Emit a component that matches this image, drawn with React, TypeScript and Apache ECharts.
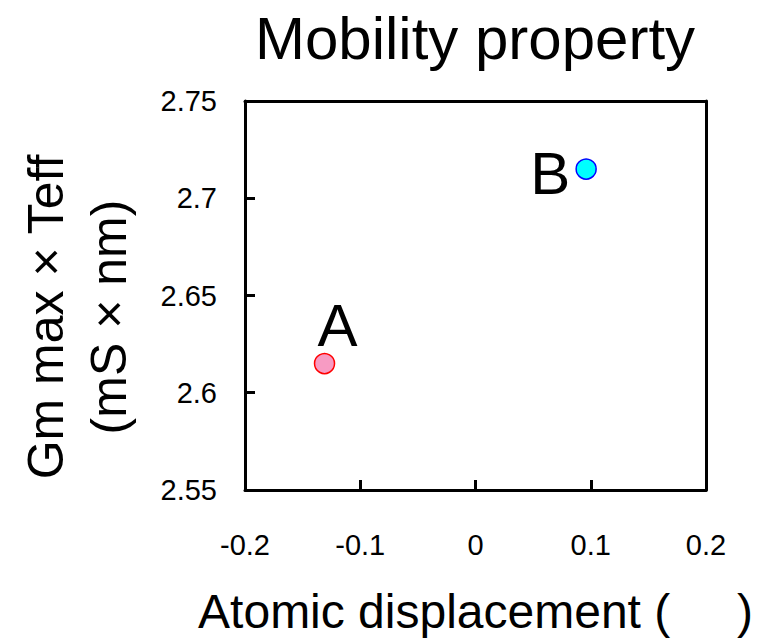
import React, { useEffect, useRef } from "react";
import * as echarts from "echarts";

const pointNames = ["A", "B"];
const xValues = [-0.131, 0.096];
const yValues = [2.615, 2.715];
const fillColors = ["#F79BC3", "#00FFFF"];
const borderColors = ["#FF0000", "#0000FF"];

const FONT = "'Liberation Sans', Arial, Helvetica, sans-serif";

const frameAxis = {
  type: "value",
  show: true,
  axisLine: { show: true, onZero: false, lineStyle: { color: "#000", width: 3 } },
  axisTick: { show: false },
  axisLabel: { show: false },
  splitLine: { show: false },
};

const labelBase = {
  show: true,
  color: "#000000",
  fontSize: 60,
  fontFamily: FONT,
  opacity: 1,
  textBorderWidth: 0,
  textShadowBlur: 0,
};

export default function App() {
  const ref = useRef<HTMLDivElement>(null);
  useEffect(() => {
    document.body.style.margin = "0";
    const chart = echarts.init(ref.current!, null, { renderer: "svg" });
    const data = pointNames.map((n, i) => ({
      name: n,
      value: [xValues[i], yValues[i]],
      itemStyle: { color: fillColors[i], borderColor: borderColors[i], borderWidth: 1.5, opacity: 1 },
      label: i === 0
        ? { ...labelBase, position: "top", offset: [13, 8], formatter: n }
        : { ...labelBase, position: "left", offset: [0, 4], formatter: n },
    }));
    chart.setOption({
      animation: false,
      backgroundColor: "#ffffff",
      textStyle: { fontFamily: FONT, color: "#000" },
      title: {
        text: "Mobility property",
        left: 470,
        top: 3,
        textAlign: "center",
        textStyle: { fontFamily: FONT, fontSize: 60, fontWeight: "normal", color: "#000" },
      },
      grid: {
        left: 245,
        right: 66,
        top: 101,
        bottom: 152,
        show: false,
      },
      xAxis: [
        {
          type: "value",
          min: -0.2,
          max: 0.2,
          interval: 0.1,
          position: "bottom",
          name: "Atomic displacement (     )",
          nameLocation: "middle",
          nameGap: 97,
          nameTextStyle: { fontFamily: FONT, fontSize: 48, color: "#000" },
          axisLine: { show: true, onZero: false, lineStyle: { color: "#000", width: 3 } },
          axisTick: { show: true, inside: true, length: 10, lineStyle: { color: "#000", width: 3 } },
          axisLabel: { fontFamily: FONT, fontSize: 29, color: "#000", margin: 40 },
          splitLine: { show: false },
        },
        { ...frameAxis, position: "top", min: -0.2, max: 0.2, interval: 0.1 },
      ],
      yAxis: [
        {
          type: "value",
          min: 2.55,
          max: 2.75,
          interval: 0.05,
          position: "left",
          axisLine: { show: true, onZero: false, lineStyle: { color: "#000", width: 3 } },
          axisTick: { show: true, inside: true, length: 10, lineStyle: { color: "#000", width: 3 } },
          axisLabel: { fontFamily: FONT, fontSize: 29, color: "#000", margin: 28 },
          splitLine: { show: false },
        },
        { ...frameAxis, position: "right", min: 2.55, max: 2.75, interval: 0.05 },
      ],
      graphic: [
        {
          type: "text",
          x: 77,
          y: 317,
          rotation: Math.PI / 2,
          style: {
            text: "Gm max × Teff\n(mS × nm)",
            font: `50px ${FONT}`,
            lineHeight: 63,
            fill: "#000",
            align: "center",
            verticalAlign: "middle",
          },
        },
      ],
      series: [
        {
          type: "scatter",
          symbol: "circle",
          symbolSize: 20,
          xAxisIndex: 0,
          yAxisIndex: 0,
          data,
          label: { ...labelBase, distance: 5 },
          emphasis: { disabled: true },
        },
      ],
    });
    return () => chart.dispose();
  }, []);
  return <div ref={ref} style={{ width: 772, height: 642 }} />;
}
